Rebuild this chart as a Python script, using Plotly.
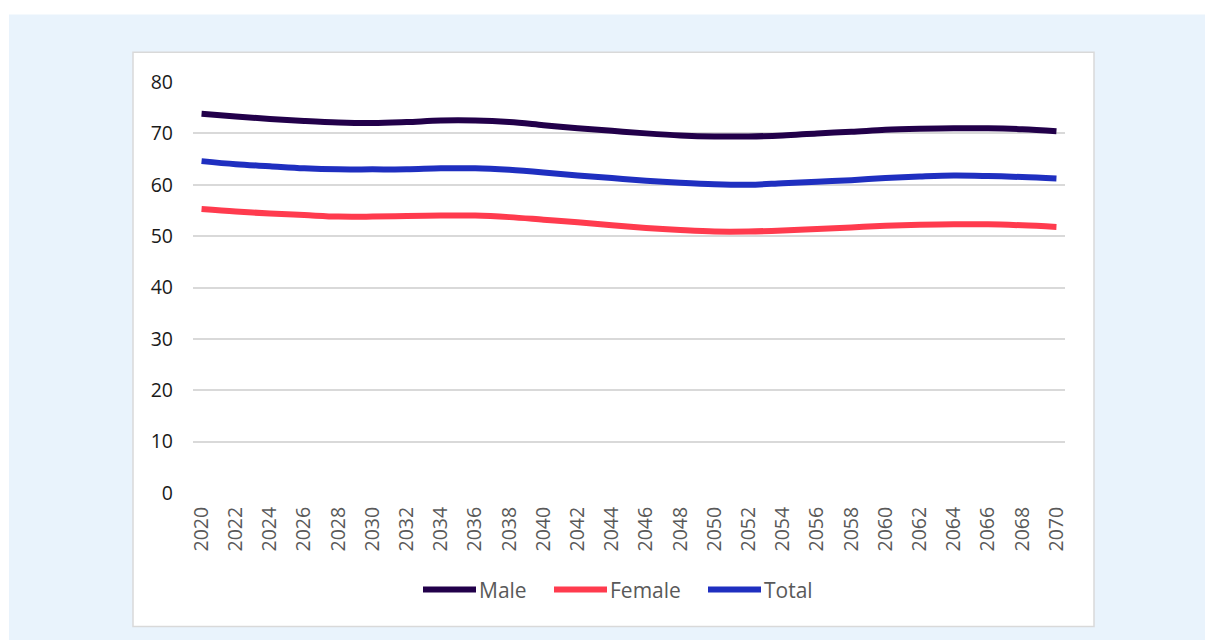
import plotly.graph_objects as go

# Projected ratios by sex, 2020-2070 (every second year)
years = [2020, 2022, 2024, 2026, 2028, 2030, 2032, 2034, 2036, 2038, 2040, 2042, 2044,
         2046, 2048, 2050, 2052, 2054, 2056, 2058, 2060, 2062, 2064, 2066, 2068, 2070]
male = [73.8, 73.3, 72.8, 72.4, 72.1, 72.0, 72.2, 72.5, 72.5, 72.2, 71.6, 71.0, 70.5,
        70.0, 69.6, 69.4, 69.4, 69.6, 70.0, 70.3, 70.7, 70.9, 71.0, 71.0, 70.8, 70.4]
female = [55.3, 54.8, 54.4, 54.1, 53.8, 53.8, 53.9, 54.0, 54.0, 53.7, 53.2, 52.7, 52.1,
          51.6, 51.2, 50.9, 50.9, 51.1, 51.4, 51.7, 52.0, 52.2, 52.3, 52.3, 52.1, 51.8]
total = [64.6, 64.0, 63.6, 63.2, 63.0, 63.0, 63.0, 63.2, 63.2, 62.9, 62.4, 61.8, 61.3,
         60.8, 60.4, 60.1, 60.0, 60.3, 60.6, 60.9, 61.3, 61.6, 61.8, 61.7, 61.5, 61.2]

series = [("Male", male, "#22004a"), ("Female", female, "#ff3b4e"), ("Total", total, "#1f2fc0")]
y_ticks = [0, 10, 20, 30, 40, 50, 60, 70, 80]

W, H = 1205, 640
L, R, T, B = 193, 1065, 81.7, 493.3  # plot area edges in pixels
FONT = "Open Sans, Noto Sans, sans-serif"


def px(x):
    return (x - L) / (R - L)


def py(y):
    return (B - y) / (B - T)


fig = go.Figure()
for name, vals, color in series:
    fig.add_trace(go.Scatter(
        x=years, y=vals, name=name, mode="lines", showlegend=False,
        line=dict(color=color, width=6, shape="spline", smoothing=1.0),
    ))

# Frame: light blue page background with a white chart card on top
shapes = [
    dict(type="rect", xref="paper", yref="paper", layer="below",
         x0=px(9), x1=px(W + 5), y0=py(H + 5), y1=py(14),
         fillcolor="#e9f3fc", line=dict(width=0)),
    dict(type="rect", xref="paper", yref="paper", layer="below",
         x0=px(133), x1=px(1094), y0=py(627), y1=py(52),
         fillcolor="white", line=dict(color="#d9d9d9", width=1.5)),
]
annotations = []

# Legend row below the axis: long line sample followed by the series name
legend_x = [421, 552, 706]
legend_y = 590
for (name, _, color), x0 in zip(series, legend_x):
    shapes.append(dict(type="line", xref="paper", yref="paper",
                       x0=px(x0 + 2), x1=px(x0 + 55), y0=py(legend_y), y1=py(legend_y),
                       line=dict(color=color, width=6)))
    annotations.append(dict(xref="paper", yref="paper", x=px(x0 + 56), y=py(legend_y),
                            xanchor="left", yanchor="middle", showarrow=False,
                            text=name, font=dict(family=FONT, size=21, color="#595959")))

fig.update_layout(
    width=W, height=H,
    margin=dict(l=L, r=W - R, t=T, b=H - B, pad=0),
    paper_bgcolor="white",
    plot_bgcolor="rgba(0,0,0,0)",
    font=dict(family=FONT, size=19, color="#595959"),
    showlegend=False,
    shapes=shapes,
    annotations=annotations,
)

fig.update_xaxes(
    range=[2019.5, 2070.5], tickmode="array", tickvals=years,
    ticktext=[str(y) for y in years], tickangle=-90,
    showgrid=False, zeroline=False, showline=False, ticks="",
    ticklabelstandoff=9,
    tickfont=dict(family=FONT, size=19.5, color="#595959"),
)
fig.update_yaxes(
    range=[0, 80], tickmode="array", tickvals=y_ticks,
    showgrid=True, gridcolor="#d9d9d9", gridwidth=1.5,
    zeroline=False, showline=False, ticks="",
    ticklabelstandoff=19,
    tickfont=dict(family=FONT, size=19.5, color="#1a1a1a"),
)

fig.write_html("out.html")
